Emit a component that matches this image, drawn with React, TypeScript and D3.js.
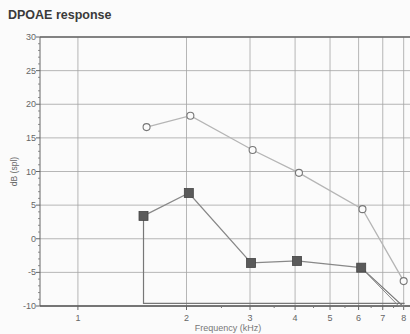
import React from "react"
import * as d3 from "d3"

const title = "DPOAE response"
const yTicks = [30, 25, 20, 15, 10, 5, 0, -5, -10]
const xTicks = [1, 2, 3, 4, 5, 6, 7, 8]

// open circles (upper series)
const circleFreq = [1.55, 2.05, 3.05, 4.1, 6.15, 8.0]
const circleDb = [16.6, 18.3, 13.2, 9.8, 4.4, -6.3]

// filled squares (DP series)
const squareFreq = [1.52, 2.03, 3.02, 4.05, 6.1]
const squareDb = [3.4, 6.8, -3.6, -3.3, -4.3]

// floor outline drawn under the DP series
const floorFreq = [1.52, 1.52, 8.05]
const floorDb = [3.4, -9.6, -9.6]
const tailFreq = [6.1, 7.95, 8.05]
const tailDb = [-4.3, -10, -10]

const W = 410
const H = 334

const App = () => {
  const left = 40
  const top = 37
  const bottom = 306

  const x = d3.scaleLog().domain([0.785, 8.33]).range([left, W])
  const y = d3.scaleLinear().domain([-10, 30]).range([bottom, top])

  const line = d3
    .line<[number, number]>()
    .x((d) => x(d[0]))
    .y((d) => y(d[1]))

  const circles = d3.zip(circleFreq, circleDb) as [number, number][]
  const squares = d3.zip(squareFreq, squareDb) as [number, number][]
  const floor = d3.zip(floorFreq, floorDb) as [number, number][]
  const tail = d3.zip(tailFreq, tailDb) as [number, number][]
  const tail2 = tail.map(([f, v], i) => [i === 1 ? 7.75 : f, v]) as [number, number][]

  const minor = d3.range(-10, 31).filter((v) => v % 5 !== 0)
  const xMinor = [2.5, 3.5, 4.5, 5.5, 6.5, 7.5]

  const font = "Liberation Sans, Arial, sans-serif"

  return (
    <svg
      width={W}
      height={H}
      style={{ position: "absolute", left: 0, top: 0, background: "#fbfbfb" }}
    >
      <text x={8} y={19} fontFamily={font} fontSize={12.5} fontWeight="bold" fill="#3a3a3a">
        {title}
      </text>

      {/* grid */}
      {yTicks.map((t) => (
        <line key={"gy" + t} x1={left} x2={W} y1={y(t)} y2={y(t)} stroke="#a5a5a5" strokeWidth={0.8} />
      ))}
      {xTicks.map((t) => (
        <line key={"gx" + t} x1={x(t)} x2={x(t)} y1={top} y2={bottom} stroke="#a5a5a5" strokeWidth={0.8} />
      ))}

      {/* axes */}
      <line x1={left} x2={left} y1={top} y2={bottom} stroke="#666" strokeWidth={1} />
      <line x1={left} x2={W} y1={top} y2={top} stroke="#666" strokeWidth={1.3} />
      <line x1={left} x2={W} y1={bottom} y2={bottom} stroke="#555" strokeWidth={1.5} />
      {yTicks.map((t) => (
        <g key={"yt" + t}>
          <line x1={left - 4} x2={left} y1={y(t)} y2={y(t)} stroke="#666" />
          <text
            x={left - 4}
            y={y(t) + 3}
            textAnchor="end"
            fontFamily={font}
            fontSize={9}
            fill="#666"
          >
            {t}
          </text>
        </g>
      ))}
      {minor.map((t) => (
        <line key={"ym" + t} x1={left - 2} x2={left} y1={y(t)} y2={y(t)} stroke="#777" strokeWidth={0.8} />
      ))}
      {xTicks.map((t) => (
        <g key={"xt" + t}>
          <line x1={x(t)} x2={x(t)} y1={bottom} y2={bottom + 4} stroke="#666" />
          <text x={x(t)} y={bottom + 15} textAnchor="middle" fontFamily={font} fontSize={9} fill="#666">
            {t}
          </text>
        </g>
      ))}
      {xMinor.map((t) => (
        <line key={"xm" + t} x1={x(t)} x2={x(t)} y1={bottom} y2={bottom + 2} stroke="#777" />
      ))}

      <text
        transform={`translate(17,${(top + bottom) / 2}) rotate(-90)`}
        textAnchor="middle"
        fontFamily={font}
        fontSize={8.5}
        fill="#666"
      >
        dB (spl)
      </text>
      <text x={228} y={331} textAnchor="middle" fontFamily={font} fontSize={9} fill="#777">
        Frequency (kHz)
      </text>

      {/* floor and tails */}
      <path d={line(floor) ?? ""} fill="none" stroke="#777" strokeWidth={1.2} />
      <path d={line(tail) ?? ""} fill="none" stroke="#777" strokeWidth={1.2} />
      <path d={line(tail2) ?? ""} fill="none" stroke="#888" strokeWidth={1} />

      {/* upper series */}
      <path d={line(circles) ?? ""} fill="none" stroke="#b5b5b5" strokeWidth={1.3} />
      {circles.map(([f, v], i) => (
        <circle key={"c" + i} cx={x(f)} cy={y(v)} r={3.5} fill="#fbfbfb" stroke="#777" strokeWidth={1.1} />
      ))}

      {/* DP series */}
      <path d={line(squares) ?? ""} fill="none" stroke="#888" strokeWidth={1.3} />
      {squares.map(([f, v], i) => (
        <rect
          key={"s" + i}
          x={x(f) - 4.5}
          y={y(v) - 4.5}
          width={9}
          height={9}
          fill="#5a5a5a"
          stroke="#444"
          strokeWidth={0.8}
        />
      ))}
    </svg>
  )
}

export default App
